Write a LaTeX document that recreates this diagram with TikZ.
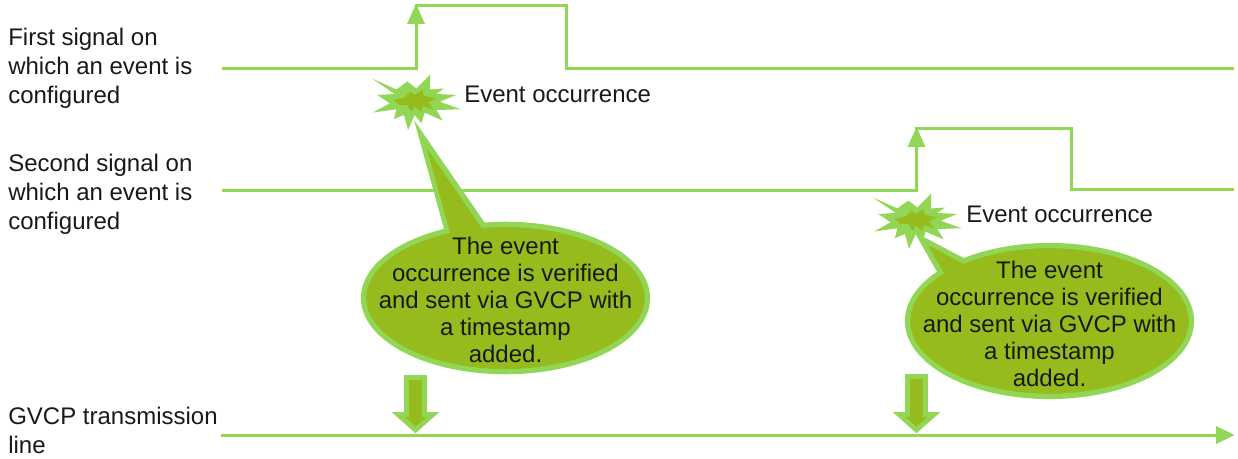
\documentclass[tikz,border=0pt]{standalone}
\usepackage{fontspec}
\setmainfont{Liberation Sans}
\usetikzlibrary{shapes.geometric,arrows.meta}
\definecolor{lineg}{RGB}{146,214,86}
\definecolor{darkg}{RGB}{149,187,28}
\definecolor{inkc}{RGB}{25,25,25}
\tikzset{
  sigline/.style={draw=lineg,line width=2.25pt,line join=miter},
  uptip/.style={fill=lineg,draw=none},
  lbl/.style={font=\fontsize{18pt}{21.6pt}\selectfont,text=inkc,inner sep=0pt,align=left},
  calltext/.style={font=\fontsize{18pt}{20.25pt}\selectfont,text=inkc,inner sep=0pt,align=center,anchor=center},
  bubble/.style={ellipse,draw=lineg,fill=darkg,line width=4.1pt,inner sep=0pt,outer sep=0pt,minimum width=212.8pt},
  bubblefill/.style={ellipse,fill=darkg,inner sep=0pt,outer sep=0pt,minimum width=208.7pt},
  tailb/.style={draw=lineg,line width=4.1pt,line join=miter,miter limit=12,fill=darkg},
  blockarrow/.style={draw=lineg,fill=darkg,line width=3.6pt,line join=miter,miter limit=12},
  pics/burst/.style={code={
    \fill[lineg] (-44,-31) -- (-19.7,-20) -- (-8.7,-28) -- (0.3,-21) -- (14.3,-35) -- (13.7,-20) -- (28,-21) -- (20.3,-15.5) -- (40.3,-14.5) -- (23.7,-7.8) -- (44.7,-0.2) -- (20.3,0.5) -- (26.7,11) -- (8.7,3.2) -- (5.3,13.8) -- (-1.3,5.5) -- (-8,20.5) -- (-12,5.5) -- (-22,9.5) -- (-19.7,-0.2) -- (-43,3) -- (-26.3,-6.2) -- (-38.7,-14.5) -- (-21.3,-15.5) -- cycle;
    \fill[darkg] (-22,-9.5) -- (-11.3,-12.2) -- (-5.3,-17.8) -- (-1.3,-14.5) -- (6.3,-19.5) -- (8,-13.5) -- (20.3,-11.2) -- (12,-7.2) -- (17,-0.2) -- (7,-3.5) -- (5.3,2.2) -- (-1.3,-2.8) -- (-4.7,2.2) -- (-8.7,-4.5) -- (-16.3,-4.5) -- cycle;
  }}
}
\begin{document}
\begin{tikzpicture}[x=0.75pt,y=-0.75pt]
\useasboundingbox (0,0) rectangle (1238,459);
% coordinates of the signals
\coordinate (s1a) at (222,68.5);
\coordinate (s1b) at (416,68.5);
\coordinate (s1c) at (416,5.5);
\coordinate (s1d) at (566,5.5);
\coordinate (s1e) at (566,69);
\coordinate (s1f) at (1234,69);
\coordinate (s2a) at (222,190.5);
\coordinate (s2b) at (916.5,190.5);
\coordinate (s2c) at (916.5,128.5);
\coordinate (s2d) at (1071.5,128.5);
\coordinate (s2e) at (1071.5,190);
\coordinate (s2f) at (1234,190);
\coordinate (g1) at (221,435);
\coordinate (g2) at (1218,435);
% signal lines
\draw[sigline] (s1a) -- (s1b) -- (s1c) -- (s1d) -- (s1e) -- (s1f);
\draw[sigline] (s2a) -- (s2b) -- (s2c) -- (s2d) -- (s2e) -- (s2f);
\draw[sigline] (g1) -- (g2);
\fill[uptip] (416,4) -- (425,24) -- (407,24) -- cycle;
\fill[uptip] (916.5,127) -- (925.5,147) -- (907.5,147) -- cycle;
\fill[uptip] (1234.5,435) -- (1216,426) -- (1216,444) -- cycle;
% labels
\node[lbl,anchor=west] (l1) at (8,68) {First signal on\\which an event is\\configured};
\node[lbl,anchor=west] (l2) at (8,194) {Second signal on\\which an event is\\configured};
\node[lbl,anchor=west] (l3) at (8,430.5) {GVCP transmission\\line};
\node[lbl,anchor=west] (e1) at (464,94) {Event occurrence};
\node[lbl,anchor=west] (e2) at (966,214.5) {Event occurrence};
% bursts
\pic at (416,109.5) {burst};
\pic at (917,228.5) {burst};
% first callout
\coordinate (t1) at (421,135);
\coordinate (t1l) at (451,244);
\coordinate (t1r) at (505,257);
\coordinate (i1) at (427,149);
\coordinate (i1l) at (454,247);
\coordinate (i1r) at (490,241);
\node[bubble,minimum height=110.3pt] (c1) at (505.5,298) {};
\draw[tailb] (t1) -- (t1r) -- (t1l) -- cycle;
\node[bubblefill,minimum height=106.2pt] (c1f) at (505.5,298) {};
\fill[darkg] (i1) -- (i1r) -- (i1l) -- cycle;
\node[calltext] (c1t) at (505.5,300) {The event\\occurrence is verified\\and sent via GVCP with\\a timestamp\\added.};
% second callout
\coordinate (t2) at (921.5,239);
\coordinate (t2l) at (967,319);
\coordinate (t2r) at (1017,289);
\coordinate (i2) at (928,245.3);
\coordinate (i2l) at (962.5,305);
\coordinate (i2r) at (1000,283);
\node[bubble,minimum height=113pt] (c2) at (1049.5,321) {};
\draw[tailb] (t2) -- (t2r) -- (t2l) -- cycle;
\node[bubblefill,minimum height=108.9pt] (c2f) at (1049.5,321) {};
\fill[darkg] (i2) -- (i2r) -- (i2l) -- cycle;
\node[calltext] (c2t) at (1049.5,324) {The event\\occurrence is verified\\and sent via GVCP with\\a timestamp\\added.};
% block arrows
\draw[blockarrow] (406.5,377.5) -- (424.5,377.5) -- (424.5,414.5) -- (433,414.5) -- (415.5,430) -- (398,414.5) -- (406.5,414.5) -- cycle;
\draw[blockarrow] (907.5,376.5) -- (925.5,376.5) -- (925.5,414.5) -- (934,414.5) -- (916.5,430) -- (899,414.5) -- (907.5,414.5) -- cycle;
\end{tikzpicture}
\end{document}
